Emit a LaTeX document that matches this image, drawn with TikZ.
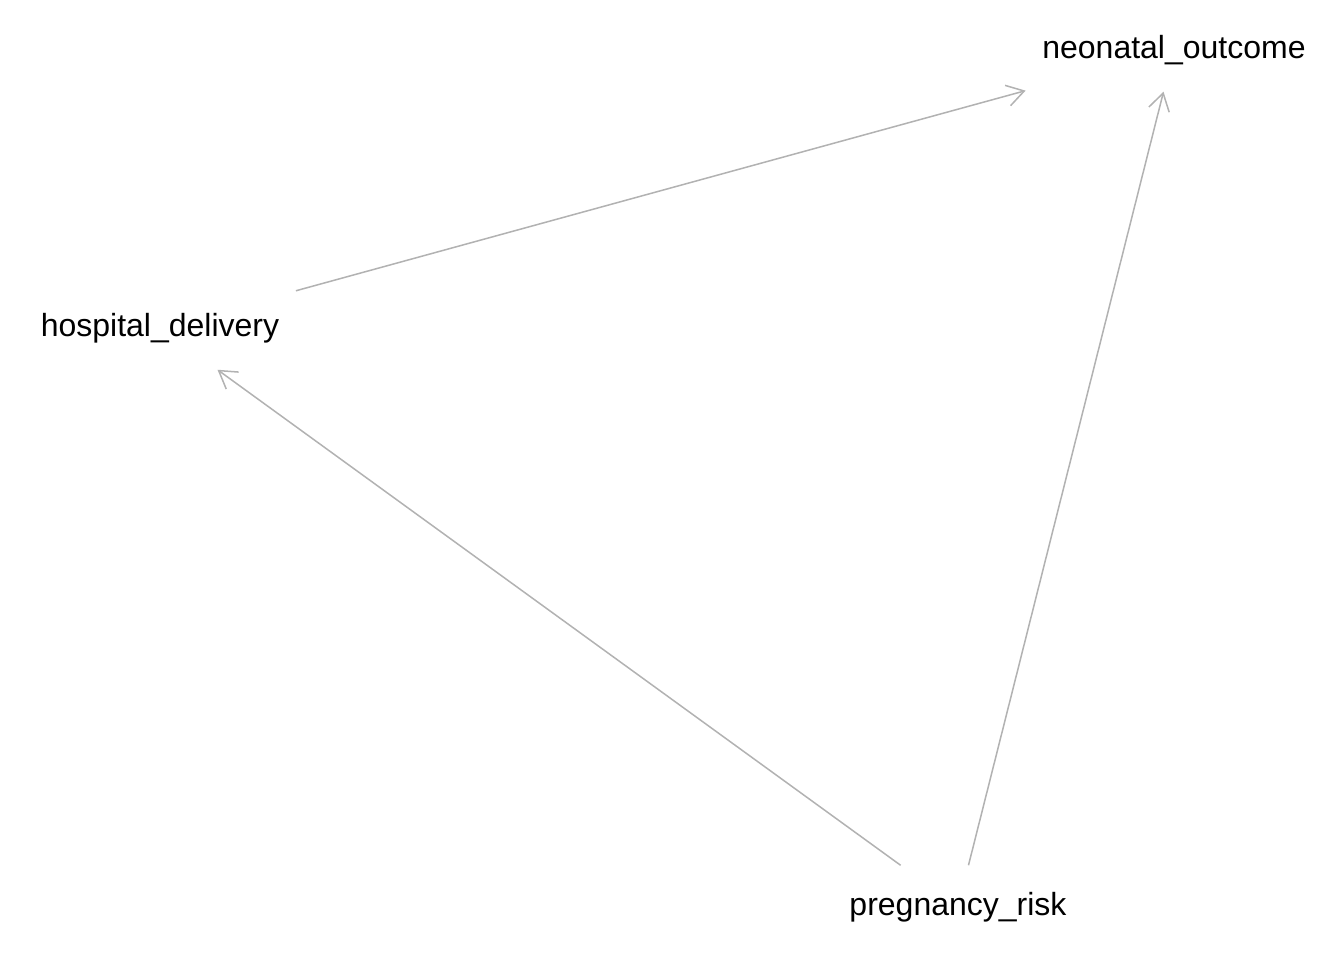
\documentclass[tikz,border=0pt]{standalone}
\usepackage{fontspec}
\setmainfont{Liberation Sans}
\usetikzlibrary{arrows.meta}
\tikzset{
    vertex/.style={rectangle,inner xsep=0.16cm,inner ysep=0pt,minimum height=0.82cm,font=\fontsize{9.1}{11}\selectfont},
    dedge/.style={-{Straight Barb[length=1.7mm,width=2.1mm]}, draw=black!30, line width=0.43pt},
}
\begin{document}
\begin{tikzpicture}[x=0.01cm,y=-0.01cm]
    \useasboundingbox (0,0) rectangle (1344,960);
    \node[vertex] (no) at (1174,50) {neonatal\_outcome};
    \node[vertex] (hd) at (160,328) {hospital\_delivery};
    \node[vertex] (pr) at (958,907) {pregnancy\_risk};
    \draw[dedge] (hd) -- (no);
    \draw[dedge] (pr) -- (hd);
    \draw[dedge] (pr) -- (no);
\end{tikzpicture}
\end{document}
